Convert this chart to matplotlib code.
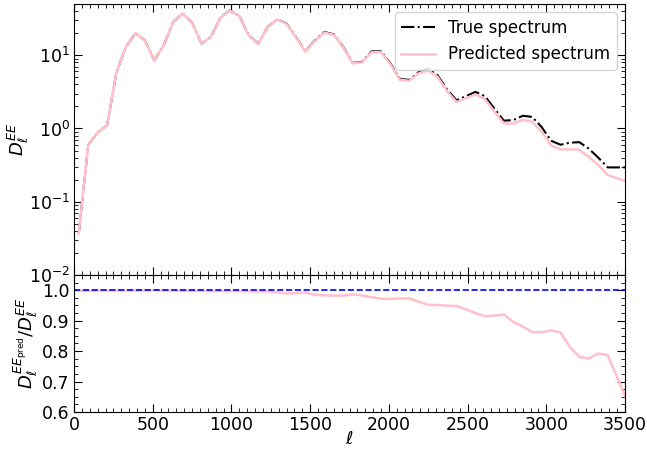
import matplotlib
matplotlib.use("Agg")
import matplotlib.pyplot as plt
import numpy as np
from matplotlib.ticker import AutoMinorLocator, MultipleLocator, LogLocator, NullFormatter

# multipole bins (centres)
ELL = [30, 90, 150, 210, 270, 330, 390, 450, 510, 570,
       630, 690, 750, 810, 870, 930, 990, 1050, 1110, 1170,
       1230, 1290, 1350, 1410, 1470, 1530, 1590, 1650, 1710, 1770,
       1830, 1890, 1950, 2010, 2070, 2130, 2190, 2250, 2310, 2370,
       2430, 2490, 2550, 2610, 2670, 2730, 2790, 2850, 2910, 2970,
       3030, 3090, 3150, 3210, 3270, 3330, 3390, 3500]

TRUE_DL = [0.037, 0.59, 0.88, 1.11, 5.9, 13.0, 20.0, 16.0, 8.5, 13.7,
           28.5, 37.0, 28.0, 14.4, 17.8, 32.7, 41.0, 34.4, 18.7, 14.4,
           24.3, 31.0, 27.0, 17.8, 11.3, 16.0, 20.8, 19.3, 13.0, 7.85,
           8.1, 11.3, 11.3, 7.7, 4.75, 4.6, 5.9, 6.5, 5.3, 3.4,
           2.43, 2.76, 3.16, 2.76, 1.87, 1.28, 1.3, 1.49, 1.44, 1.05,
           0.68, 0.6, 0.64, 0.65, 0.53, 0.40, 0.294, 0.294]

PRED_DL = [0.037, 0.59, 0.88, 1.11, 5.9, 13.0, 20.0, 16.0, 8.5, 13.7,
           28.5, 37.0, 28.0, 14.4, 17.8, 32.6, 40.9, 34.3, 18.6, 14.3,
           24.2, 30.8, 26.7, 17.6, 11.2, 15.8, 20.4, 19.0, 12.8, 7.74,
           7.96, 11.0, 11.0, 7.48, 4.62, 4.48, 5.68, 6.19, 5.04, 3.23,
           2.30, 2.59, 2.92, 2.52, 1.71, 1.18, 1.16, 1.31, 1.24, 0.905,
           0.59, 0.517, 0.52, 0.508, 0.41, 0.317, 0.231, 0.192]

RATIO = [0.998, 0.998, 0.999, 0.999, 0.999, 0.999, 0.999, 0.999, 1.0, 0.999,
         0.999, 0.998, 0.998, 0.998, 0.997, 0.997, 0.997, 0.997, 0.996, 0.996,
         0.996, 0.993, 0.989, 0.99, 0.992, 0.985, 0.983, 0.982, 0.982, 0.986,
         0.983, 0.977, 0.972, 0.971, 0.973, 0.973, 0.962, 0.952, 0.951, 0.949,
         0.948, 0.937, 0.925, 0.914, 0.917, 0.92, 0.896, 0.881, 0.862, 0.862,
         0.868, 0.861, 0.814, 0.781, 0.776, 0.792, 0.787, 0.653]


def style(ax):
    ax.tick_params(which='both', direction='in', top=True, right=True,
                   labelsize=12.5, pad=3)
    ax.tick_params(which='major', length=6)
    ax.tick_params(which='minor', length=3)


def main():
    fig = plt.figure(figsize=(6.47, 4.5), dpi=100)
    ax1 = fig.add_axes([0.1144, 0.389, 0.8516, 0.602])
    ax2 = fig.add_axes([0.1144, 0.0844, 0.8516, 0.3046], sharex=ax1)

    ax1.plot(ELL, TRUE_DL, color='black', linestyle='-.', lw=1.5,
             label='True spectrum')
    ax1.plot(ELL, PRED_DL, color='pink', lw=1.8, label='Predicted spectrum')
    ax1.set_yscale('log')
    ax1.set_ylim(1e-2, 50)
    ax1.set_xlim(0, 3500)
    ax1.yaxis.set_major_locator(LogLocator(base=10, numticks=10))
    ax1.yaxis.set_minor_locator(LogLocator(base=10, subs=np.arange(2, 10), numticks=10))
    ax1.yaxis.set_minor_formatter(NullFormatter())
    ax1.set_ylabel(r'$D_\ell^{EE}$', fontsize=13)
    ax1.yaxis.set_label_coords(-0.078, 0.5)
    ax1.legend(loc='upper right', fontsize=12)
    style(ax1)
    plt.setp(ax1.get_xticklabels(), visible=False)

    ax2.plot(ELL, RATIO, color='pink', lw=1.8)
    ax2.axhline(1.0, color='blue', linestyle='--', lw=1.2)
    ax2.set_ylim(0.6, 1.05)
    ax2.yaxis.set_major_locator(MultipleLocator(0.1))
    ax2.yaxis.set_minor_locator(AutoMinorLocator(4))
    ax2.xaxis.set_major_locator(MultipleLocator(500))
    ax2.xaxis.set_minor_locator(MultipleLocator(50))
    ax2.set_xlabel(r'$\ell$', fontsize=13, labelpad=-3)
    ax2.set_ylabel(r'$D_\ell^{EE_{\rm pred}}/D_\ell^{EE}$', fontsize=13)
    ax2.yaxis.set_label_coords(-0.062, 0.5)
    style(ax2)

    fig.savefig('out.png', dpi=100)


if __name__ == '__main__':
    main()
